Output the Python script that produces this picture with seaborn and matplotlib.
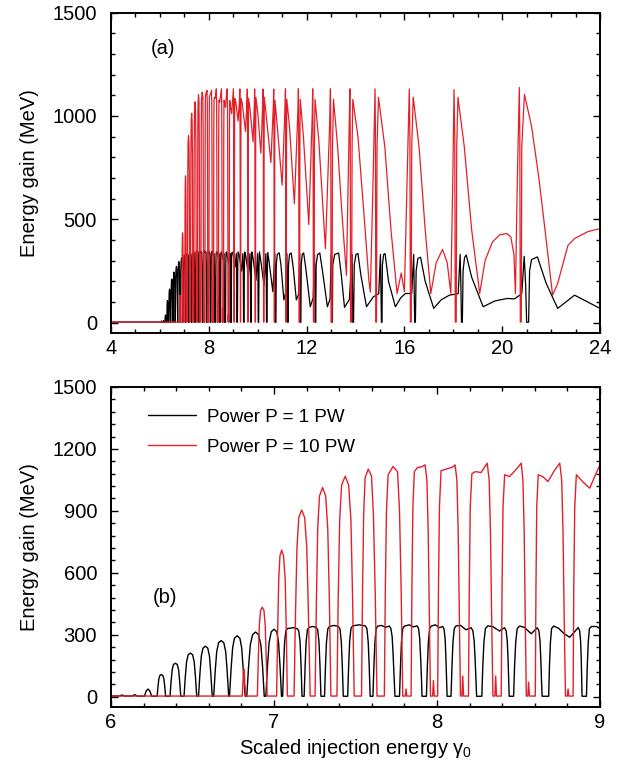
import matplotlib
matplotlib.use("Agg")
import matplotlib.pyplot as plt
from matplotlib.ticker import MultipleLocator
import numpy as np
import pandas as pd
import seaborn as sns

# ---------------- data (vertices) ----------------
# Black curve : Power P = 1 PW
blk_x_1 = [4.0, 5.9, 6.05, 6.067, 6.085, 6.13, 6.145, 6.16,
           6.205, 6.216, 6.227, 6.238, 6.25,
           6.283, 6.288, 6.2935, 6.300, 6.309, 6.318, 6.3245, 6.330, 6.335,
           6.362, 6.3686, 6.3752, 6.3835, 6.395, 6.4065, 6.4148, 6.4214, 6.428,
           6.448, 6.4558, 6.4636, 6.4734, 6.487, 6.5006, 6.5104, 6.5182, 6.526,
           6.537, 6.5454, 6.5538, 6.5643, 6.579, 6.5937, 6.6042, 6.6126, 6.621,
           6.630, 6.6392, 6.6484, 6.6599, 6.676, 6.6921, 6.7036, 6.7128, 6.722,
           6.727, 6.7366, 6.7462, 6.7572, 6.774, 6.7908, 6.8018, 6.8114, 6.823,
           6.833, 6.8437, 6.8544, 6.8683, 6.887, 6.9057, 6.9196, 6.9303, 6.940,
           6.950, 6.960, 6.970, 6.983, 7.000, 7.017, 7.028, 7.037, 7.046]
blk_y_1 = [3, 3, 3, 8, 3, 3, 10, 3,
           2, 28, 37, 28, 2,
           2, 48, 86, 103, 107, 103, 86, 48, 2,
           2, 73, 130, 156, 162, 156, 130, 73, 2,
           2, 95, 169, 203, 211, 203, 169, 95, 2,
           2, 110, 196, 235, 245, 235, 196, 110, 2,
           2, 122, 218, 261, 272, 261, 218, 122, 2,
           2, 133, 236, 283, 295, 283, 236, 133, 2,
           2, 141, 250, 300, 313, 300, 250, 141, 2,
           2, 147, 262, 314, 327, 314, 262, 147, 2]

blk_x_2 = [7.053, 7.059, 7.065, 7.073, 7.083, 7.118, 7.142, 7.152, 7.160, 7.166, 7.172,
           7.185, 7.191, 7.197, 7.205, 7.215, 7.238, 7.258, 7.268, 7.276, 7.282, 7.288,
           7.310, 7.316, 7.322, 7.330, 7.340, 7.369, 7.395, 7.405, 7.413, 7.419, 7.425,
           7.452, 7.458, 7.464, 7.472, 7.482, 7.523, 7.560, 7.570, 7.578, 7.584, 7.590,
           7.607, 7.613, 7.619, 7.627, 7.637, 7.660, 7.685, 7.708, 7.717, 7.725, 7.731, 7.737, 7.742,
           7.770, 7.776, 7.782, 7.790, 7.800, 7.830, 7.855, 7.878, 7.887, 7.894, 7.900, 7.905, 7.908,
           7.935, 7.941, 7.947, 7.955, 7.965, 7.990, 8.015, 8.035, 8.043, 8.050, 8.055, 8.059, 8.062,
           8.086, 8.092, 8.098, 8.106, 8.117, 8.145, 8.178, 8.209, 8.220, 8.228, 8.234, 8.239, 8.243,
           8.275, 8.281, 8.288, 8.297, 8.312, 8.340, 8.384, 8.414, 8.424, 8.431, 8.436, 8.440, 8.443,
           8.470, 8.476, 8.483, 8.492, 8.507, 8.535, 8.578, 8.615, 8.625, 8.632, 8.637, 8.641, 8.645,
           8.685, 8.690, 8.696, 8.703, 8.715, 8.745, 8.780, 8.814, 8.845, 8.866, 8.875, 8.881, 8.885, 8.888, 8.890,
           8.917, 8.922, 8.928, 8.935, 8.948, 8.980]
blk_y_2 = [2, 150, 265, 320, 330, 334, 330, 318, 265, 150, 2,
           2, 150, 265, 325, 336, 340, 336, 325, 265, 150, 2,
           2, 150, 265, 328, 340, 345, 340, 328, 265, 150, 2,
           2, 150, 265, 330, 343, 348, 343, 330, 265, 150, 2,
           2, 150, 265, 330, 342, 345, 336, 342, 330, 290, 200, 90, 2,
           2, 150, 265, 330, 342, 348, 338, 343, 330, 280, 180, 80, 2,
           2, 150, 265, 330, 342, 348, 334, 340, 328, 280, 180, 80, 2,
           2, 150, 265, 330, 343, 345, 324, 334, 320, 270, 180, 80, 2,
           2, 150, 265, 330, 343, 340, 318, 334, 320, 270, 180, 80, 2,
           2, 150, 265, 330, 342, 336, 305, 334, 320, 270, 180, 80, 2,
           2, 150, 265, 330, 342, 332, 305, 288, 315, 335, 320, 270, 180, 80, 2,
           2, 150, 265, 330, 340, 340]

blk_x_3 = [9.0, 9.08, 9.125, 9.138, 9.150, 9.17,
           9.185, 9.20, 9.24, 9.34, 9.395, 9.41, 9.422, 9.44,
           9.455, 9.47, 9.51, 9.62, 9.685, 9.70, 9.712, 9.73,
           9.745, 9.76, 9.80, 9.93, 9.995, 10.01, 10.022, 10.04,
           10.055, 10.07, 10.12, 10.26, 10.335, 10.35, 10.362, 10.38,
           10.395, 10.415, 10.47, 10.62, 10.70, 10.713, 10.725, 10.745,
           10.76, 10.80, 10.88, 10.95, 11.07, 11.15, 11.195, 11.21, 11.225, 11.245,
           11.26, 11.30, 11.37, 11.45, 11.58, 11.68, 11.715, 11.73, 11.745, 11.765,
           11.78, 11.82, 11.88, 11.97, 12.15, 12.27, 12.325, 12.34, 12.355, 12.375,
           12.39, 12.45, 12.54, 12.65, 12.85, 12.96, 13.005, 13.02, 13.035, 13.055]
blk_y_3 = [328, 270, 334, 260, 2, 2,
           280, 342, 330, 250, 334, 250, 2, 2,
           280, 342, 325, 230, 334, 240, 2, 2,
           280, 342, 320, 205, 334, 230, 2, 2,
           280, 342, 305, 180, 334, 220, 2, 2,
           280, 340, 290, 150, 334, 200, 2, 2,
           280, 330, 338, 280, 110, 150, 334, 180, 2, 2,
           280, 330, 337, 270, 110, 140, 334, 180, 2, 2,
           280, 330, 337, 260, 77, 120, 330, 180, 2, 2,
           280, 330, 337, 250, 77, 115, 330, 180, 2, 2]

blk_x_4 = [13.07, 13.15, 13.31, 13.42, 13.55, 13.75, 13.86, 13.875, 13.89, 13.92,
           13.95, 14.02, 14.10, 14.22, 14.45, 14.73, 14.95, 15.02, 15.04, 15.06, 15.085,
           15.10, 15.15, 15.21, 15.35, 15.63, 15.85, 16.04, 16.30, 16.38, 16.40, 16.42, 16.45,
           16.48, 16.55, 16.66, 16.85, 17.20, 17.50, 17.84, 18.20, 18.28, 18.31, 18.335, 18.37,
           18.40, 18.46, 18.53, 18.75, 19.22, 19.70, 20.20, 20.50, 20.80, 20.90, 20.96, 21.00, 21.08,
           21.12, 21.20, 21.44, 21.80, 22.27, 22.96, 23.50, 24.0]
blk_y_4 = [280, 330, 337, 230, 74, 112, 330, 180, 2, 2,
           280, 330, 334, 230, 77, 125, 140, 330, 180, 2, 2,
           280, 330, 334, 200, 77, 120, 141, 141, 330, 180, 2, 2,
           250, 310, 317, 200, 69, 110, 133, 140, 330, 180, 2, 2,
           250, 315, 327, 220, 77, 105, 117, 115, 140, 321, 180, 2, 2,
           250, 305, 318, 190, 69, 133, 100, 69]

# Red curve : Power P = 10 PW
red_x_1 = [4.0, 6.805, 6.809, 6.812, 6.815, 6.818, 6.821, 6.826,
           6.898, 6.904, 6.910, 6.9175, 6.928, 6.9385, 6.946, 6.952, 6.958,
           7.016, 7.0225, 7.029, 7.0365, 7.047, 7.0585, 7.0685, 7.0755, 7.082,
           7.123, 7.132, 7.141, 7.152, 7.170, 7.188, 7.201, 7.211, 7.222,
           7.252, 7.260, 7.268, 7.279, 7.298, 7.317, 7.330, 7.340, 7.349,
           7.386, 7.394, 7.403, 7.415, 7.437, 7.458, 7.472, 7.482, 7.492]
red_y_1 = [3, 3, 60, 115, 134, 115, 60, 3,
           3, 195, 347, 417, 434, 417, 347, 195, 3,
           3, 320, 568, 682, 710, 682, 568, 320, 3,
           3, 407, 723, 868, 904, 868, 723, 407, 3,
           3, 456, 810, 972, 1013, 972, 810, 456, 3,
           3, 480, 855, 1025, 1068, 1025, 855, 480, 3]

red_x_2 = [7.537, 7.543, 7.550, 7.559, 7.578, 7.598, 7.610, 7.621, 7.632,
           7.677, 7.683, 7.690, 7.700, 7.730, 7.758, 7.770, 7.780, 7.790,
           7.805, 7.810, 7.815,
           7.841, 7.846, 7.852, 7.861, 7.880, 7.905, 7.927, 7.938, 7.946, 7.953, 7.960,
           7.973, 7.978, 7.983,
           8.004, 8.009, 8.015, 8.025, 8.070, 8.096, 8.111, 8.122, 8.130, 8.137, 8.144,
           8.153, 8.158, 8.163,
           8.193, 8.198, 8.204, 8.214, 8.235, 8.271, 8.295, 8.308, 8.320, 8.328, 8.335, 8.343,
           8.355, 8.360, 8.365,
           8.394, 8.399, 8.405, 8.415, 8.445, 8.490, 8.517, 8.527, 8.535, 8.541, 8.548,
           8.557, 8.562, 8.567,
           8.603, 8.607, 8.612, 8.621, 8.650, 8.681, 8.720, 8.753, 8.765, 8.773, 8.780, 8.788,
           8.799, 8.804, 8.809,
           8.835, 8.839, 8.845, 8.855, 8.895, 8.937, 8.975, 9.005, 9.015, 9.021, 9.026, 9.030, 9.045]
red_y_2 = [3, 500, 880, 1060, 1102, 1070, 880, 500, 3,
           3, 520, 900, 1075, 1115, 1090, 900, 520, 3,
           3, 37, 3,
           3, 520, 920, 1090, 1110, 1113, 1123, 1050, 800, 400, 3,
           3, 78, 3,
           3, 520, 920, 1095, 1106, 1112, 1123, 1050, 800, 400, 3,
           3, 100, 3,
           3, 520, 920, 1080, 1090, 1086, 1115, 1131, 1050, 800, 400, 3,
           3, 100, 3,
           3, 520, 920, 1075, 1066, 1105, 1131, 1050, 800, 400, 3,
           3, 70, 3,
           3, 520, 920, 1075, 1065, 1042, 1095, 1131, 1050, 800, 400, 3,
           3, 37, 3,
           3, 520, 920, 1075, 1040, 1010, 1080, 1131, 1050, 800, 400, 3, 3]

red_x_3 = [9.052, 9.060, 9.100, 9.200, 9.255, 9.270, 9.280, 9.292, 9.305,
           9.312, 9.320, 9.370, 9.500, 9.560, 9.575, 9.585, 9.595, 9.610,
           9.617, 9.625, 9.680, 9.810, 9.865, 9.875, 9.885, 9.895, 9.910,
           9.917, 9.925, 10.00, 10.13, 10.205, 10.22, 10.23, 10.24, 10.255,
           10.262, 10.27, 10.35, 10.54, 10.64, 10.655, 10.665, 10.675, 10.69,
           10.697, 10.705, 10.78, 11.00, 11.12, 11.136, 11.145, 11.155, 11.17,
           11.178, 11.19, 11.30, 11.50, 11.65, 11.665, 11.678, 11.69, 11.715,
           11.725, 11.74, 11.87, 12.09, 12.23, 12.25, 12.265, 12.28, 12.31,
           12.32, 12.345, 12.50, 12.77, 12.94, 12.975, 12.99, 13.00, 13.04]
red_y_3 = [850, 1085, 1070, 975, 1080, 1130, 900, 3, 3,
           850, 1085, 1060, 925, 1060, 1130, 900, 3, 3,
           850, 1085, 1040, 875, 1060, 1130, 900, 3, 3,
           850, 1090, 1020, 820, 1060, 1130, 900, 3, 3,
           850, 1090, 1000, 775, 1050, 1130, 900, 3, 3,
           850, 1075, 980, 665, 1050, 1131, 900, 3, 3,
           850, 1080, 950, 575, 1040, 1131, 900, 3, 3,
           850, 1080, 900, 475, 1000, 1131, 900, 3, 3,
           850, 1080, 880, 358, 950, 1131, 900, 3, 3]

red_x_4 = [13.06, 13.10, 13.27, 13.45, 13.63, 13.72, 13.77, 13.785, 13.80, 13.84,
           13.86, 13.89, 14.10, 14.35, 14.55, 14.61, 14.72, 14.80, 14.815, 14.83, 14.86,
           14.88, 14.94, 15.20, 15.45, 15.70, 15.87, 16.00, 16.15, 16.20, 16.225, 16.245, 16.28,
           16.30, 16.36, 16.60, 16.85, 17.08, 17.30, 17.56, 17.75, 17.90, 17.98, 18.03, 18.06, 18.08, 18.12,
           18.14, 18.19, 18.45, 18.75, 19.08, 19.30, 19.60, 19.90, 20.19, 20.35, 20.48, 20.54,
           20.62, 20.70, 20.72, 20.74, 20.78,
           20.80, 20.91, 21.20, 21.50, 21.80, 22.06, 22.27, 22.69, 22.96, 23.50, 24.00]
red_y_4 = [850, 1080, 850, 520, 229, 800, 1131, 900, 3, 3,
           850, 1080, 900, 520, 200, 148, 700, 1131, 900, 3, 3,
           850, 1090, 850, 450, 141, 240, 150, 900, 1130, 900, 3, 3,
           850, 1091, 850, 450, 141, 290, 354, 290, 141, 700, 1127, 900, 3, 3,
           850, 1090, 850, 450, 141, 300, 390, 425, 431, 415, 330, 141,
           700, 1137, 900, 3, 3,
           850, 1104, 950, 700, 400, 133, 190, 374, 407, 440, 455]

labels = ["Power P = 1 PW", "Power P = 10 PW"]
colors = ["#000000", "#e3202a"]
panel_tags = ["(a)", "(b)"]

black = pd.DataFrame({"gamma": blk_x_1 + blk_x_2 + blk_x_3 + blk_x_4,
                      "gain": blk_y_1 + blk_y_2 + blk_y_3 + blk_y_4})
red = pd.DataFrame({"gamma": red_x_1 + red_x_2 + red_x_3 + red_x_4,
                    "gain": red_y_1 + red_y_2 + red_y_3 + red_y_4})

# ---------------- style ----------------
sns.set_theme(style="ticks", rc={"axes.edgecolor": "black", "xtick.color": "black",
                                 "ytick.color": "black", "text.color": "black",
                                 "axes.labelcolor": "black"})
plt.rcParams["font.family"] = ["Liberation Sans", "DejaVu Sans"]
plt.rcParams["mathtext.default"] = "regular"
FS = 14.5

fig = plt.figure(figsize=(6.2, 7.68), dpi=100)
axA = fig.add_axes([111 / 620, 1 - 333 / 768, 489 / 620, 320.5 / 768])
axB = fig.add_axes([111 / 620, 1 - 707 / 768, 489 / 620, 320 / 768])

for ax, lw in ((axA, 0.9), (axB, 1.0)):
    sns.lineplot(data=black, x="gamma", y="gain", ax=ax, color=colors[0], lw=lw,
                 sort=False, estimator=None, label=labels[0])
    sns.lineplot(data=red, x="gamma", y="gain", ax=ax, color=colors[1], lw=lw,
                 sort=False, estimator=None, label=labels[1])
    ax.set_ylim(-50, 1500)
    ax.set_ylabel("Energy gain (MeV)", fontsize=FS)
    ax.yaxis.set_label_coords(-0.147, 0.5)
    ax.tick_params(which="both", direction="in", top=True, right=True,
                   width=1.0, labelsize=FS)
    ax.tick_params(axis="y", which="both", pad=10)
    ax.tick_params(axis="x", which="both", pad=4.5)
    ax.tick_params(which="major", length=5)
    ax.tick_params(which="minor", length=2.8)
    for s in ax.spines.values():
        s.set_linewidth(1.4)

axA.set_xlim(4, 24)
axA.xaxis.set_major_locator(MultipleLocator(4))
axA.xaxis.set_minor_locator(MultipleLocator(1))
axA.yaxis.set_major_locator(MultipleLocator(500))
axA.yaxis.set_minor_locator(MultipleLocator(100))
axA.set_xlabel("")
axA.get_legend().remove()
axA.text(0.106, 0.889, panel_tags[0], transform=axA.transAxes, ha="center",
         va="center", fontsize=FS)

axB.set_xlim(6, 9)
axB.xaxis.set_major_locator(MultipleLocator(1))
axB.xaxis.set_minor_locator(MultipleLocator(0.2))
axB.yaxis.set_major_locator(MultipleLocator(300))
axB.yaxis.set_minor_locator(MultipleLocator(60))
axB.set_xlabel("Scaled injection energy γ$_0$", fontsize=FS)
axB.xaxis.set_label_coords(0.5, -0.094)
axB.text(0.110, 0.341, panel_tags[1], transform=axB.transAxes, ha="center",
         va="center", fontsize=FS)
axB.legend(loc="upper left", bbox_to_anchor=(0.0757, 0.932), frameon=False,
           fontsize=13.5, handlelength=2.55, handletextpad=0.6, labelspacing=0.68,
           borderpad=0, borderaxespad=0)

fig.savefig("out.png", dpi=100)
